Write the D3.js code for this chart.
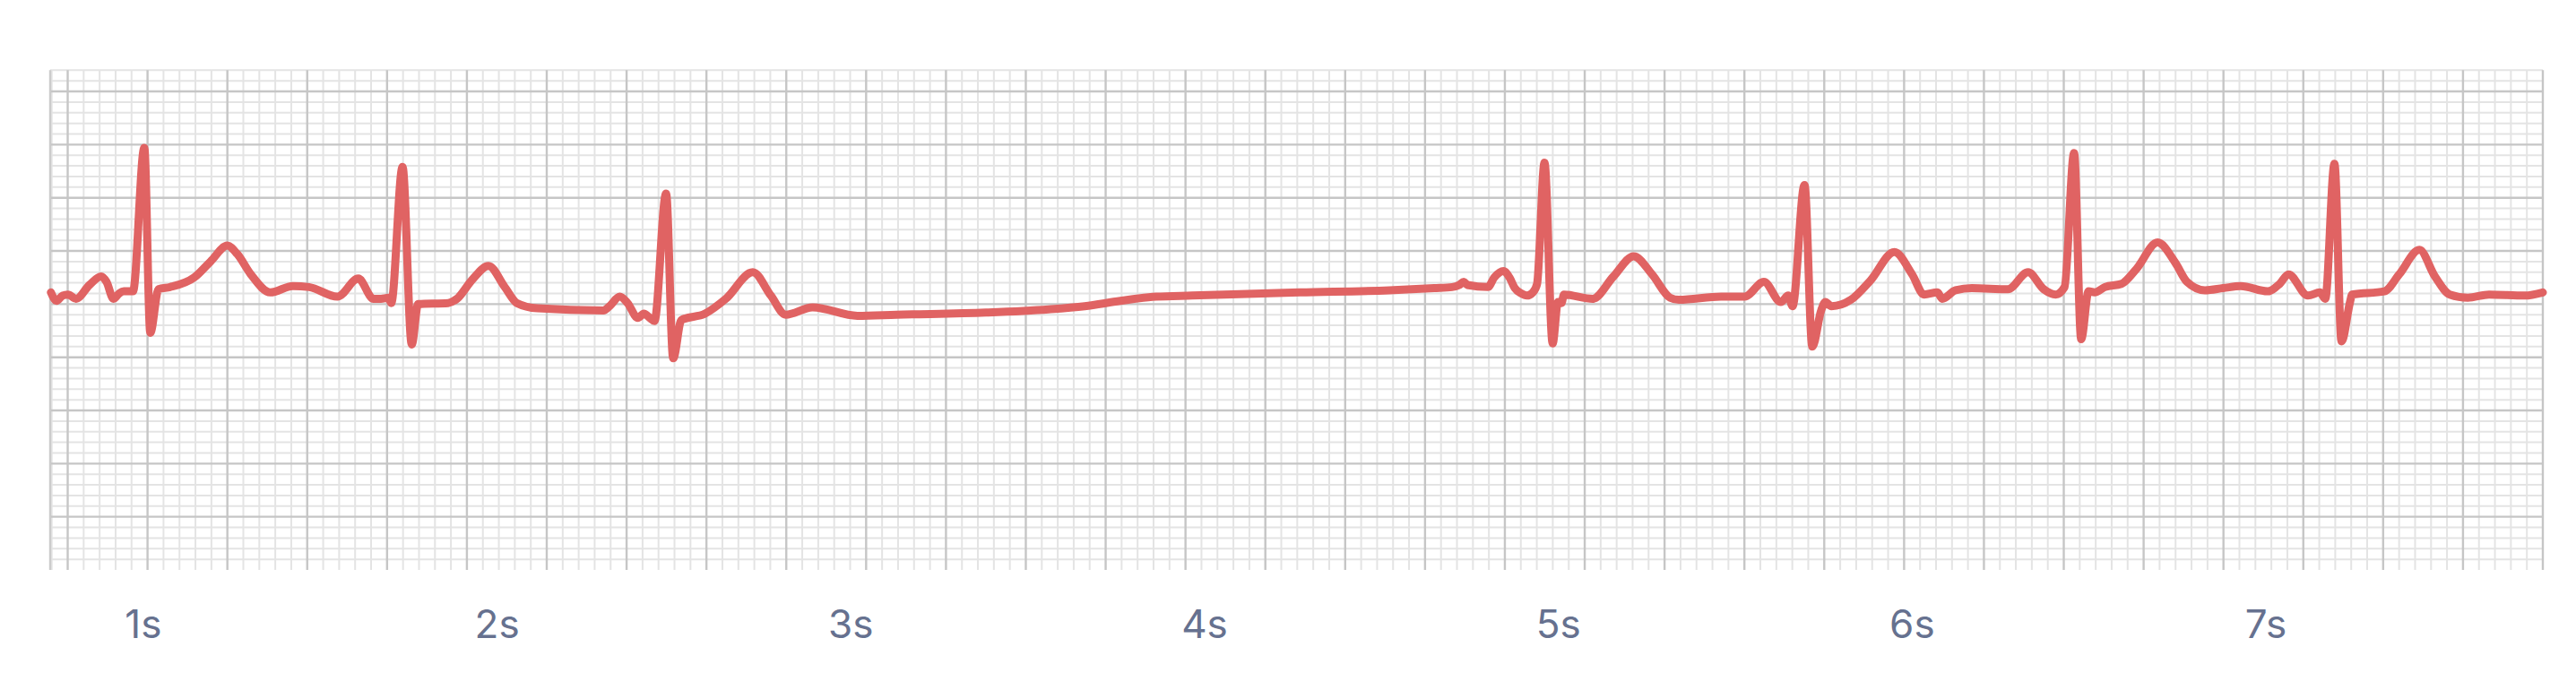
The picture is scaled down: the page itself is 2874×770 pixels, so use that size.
<!DOCTYPE html>
<html>
<head>
<meta charset="utf-8">
<script src="https://cdn.jsdelivr.net/npm/d3@7"></script>
<style>
  html, body { margin: 0; padding: 0; background: #ffffff; }
  svg { display: block; }
</style>
</head>
<body>
<svg id="chart" width="2874" height="770"></svg>
<script>
// ---- data (time in seconds, voltage in mV) ----
const times = [
  0.740, 0.756, 0.773, 0.788, 0.811, 0.849, 0.882, 0.897, 0.917, 0.933, 0.946, 0.972,
  1.004, 1.021, 1.044, 1.077, 1.145, 1.191, 1.239, 1.267, 1.305, 1.360, 1.424, 1.470,
  1.550, 1.609, 1.652, 1.673, 1.694, 1.702, 1.734, 1.760, 1.778, 1.863, 1.888, 1.931,
  1.977, 2.023, 2.057, 2.116,
  2.302, 2.319, 2.348, 2.370, 2.399, 2.416, 2.433, 2.446, 2.479, 2.499, 2.522, 2.589,
  2.648, 2.724, 2.775, 2.817, 2.893, 3.020,
  3.130, 3.383, 3.560, 3.662, 3.763, 3.864, 3.966, 4.270, 4.523, 4.650,
  4.701, 4.721, 4.734, 4.744, 4.802, 4.820, 4.846, 4.863, 4.878, 4.896, 4.912, 4.929,
  4.941, 4.962, 4.985, 5.000, 5.010, 5.017, 5.098, 5.157, 5.214, 5.266, 5.317, 5.342,
  5.461, 5.528, 5.582, 5.630, 5.651, 5.663, 5.697, 5.719, 5.744, 5.756, 5.773, 5.828,
  5.883, 5.951, 6.001, 6.035, 6.073, 6.086, 6.124, 6.170, 6.272, 6.329, 6.373, 6.407,
  6.432, 6.459, 6.479, 6.500, 6.517, 6.546, 6.593, 6.635, 6.695, 6.745, 6.778, 6.829,
  6.880, 6.930, 7.006, 7.040, 7.065, 7.120, 7.154, 7.169, 7.195, 7.215, 7.239, 7.245,
  7.336, 7.378, 7.435, 7.479, 7.521, 7.572, 7.632, 7.733, 7.784
];
const voltages = [
  0.11, 0.03, 0.08, 0.09, 0.05, 0.18, 0.26, 0.21, 0.05, 0.10, 0.12, 0.12,
  1.47, -0.27, 0.14, 0.16, 0.25, 0.40, 0.55, 0.47, 0.28, 0.11, 0.17, 0.16,
  0.07, 0.24, 0.05, 0.05, 0.06, 0.01, 1.29, -0.38, 0.00, 0.01, 0.05, 0.23,
  0.36, 0.16, 0.01, -0.04,
  -0.06, -0.02, 0.07, 0.01, -0.13, -0.09, -0.13, -0.16, 1.04, -0.51, -0.15, -0.09,
  0.05, 0.30, 0.08, -0.10, -0.03, -0.11,
  -0.10, -0.08, -0.05, -0.02, 0.03, 0.07, 0.08, 0.11, 0.13, 0.15,
  0.16, 0.18, 0.21, 0.18, 0.16, 0.25, 0.31, 0.25, 0.15, 0.10, 0.08, 0.11,
  0.19, 1.33, -0.37, 0.02, 0.01, 0.09, 0.05, 0.26, 0.45, 0.28, 0.06, 0.04,
  0.07, 0.07, 0.21, 0.02, 0.08, -0.02, 1.12, -0.40, -0.06, 0.02, -0.02, 0.04,
  0.22, 0.49, 0.28, 0.09, 0.11, 0.05, 0.13, 0.15, 0.14, 0.30, 0.14, 0.09,
  0.16, 1.42, -0.33, 0.12, 0.11, 0.16, 0.19, 0.33, 0.58, 0.39, 0.21, 0.13,
  0.15, 0.17, 0.12, 0.19, 0.28, 0.08, 0.11, 0.05, 1.32, -0.35, 0.02, 0.09,
  0.12, 0.28, 0.51, 0.26, 0.09, 0.06, 0.09, 0.08, 0.11
];
const tickValues = [1, 2, 3, 4, 5, 6, 7];
const tickLabels = ["1s", "2s", "3s", "4s", "5s", "6s", "7s"];
const timeDomain = [0.738, 7.784];
const voltDomain = [-2.5, 2.2];

// ---- layout ----
const plot = { left: 56, right: 2837, top: 78.3, bottom: 636 };
const svg = d3.select("#chart");
svg.append("rect").attr("width", 2874).attr("height", 770).attr("fill", "#ffffff");

const x = d3.scaleLinear().domain(timeDomain).range([plot.left, plot.right]);
const y = d3.scaleLinear().domain(voltDomain).range([plot.bottom, plot.top]);

// paper grid: vertical lines anchored at right edge, horizontal every 0.1 mV
const gridCells = (plot.right - plot.left) / 17.816;
const gx = d3.scaleLinear().domain([0, gridCells]).range([plot.right, plot.left]);
const vIdx = d3.range(0, Math.floor(gridCells) + 1);
const hVals = d3.range(-24, 23).map(k => k / 10);

const grid = svg.append("g");
function drawGrid(major) {
  const col = major ? "#c6c6c6" : "#e4e4e4";
  const w = major ? 2.4 : 2;
  grid.append("g").selectAll("line")
    .data(vIdx.filter(k => (k % 5 === 0) === major))
    .join("line")
    .attr("x1", k => gx(k)).attr("x2", k => gx(k))
    .attr("y1", plot.top).attr("y2", plot.bottom)
    .attr("stroke", col).attr("stroke-width", w);
  grid.append("g").selectAll("line")
    .data(hVals.filter(v => (Math.abs(Math.round(v * 10)) % 5 === 0) === major))
    .join("line")
    .attr("x1", plot.left).attr("x2", plot.right)
    .attr("y1", v => y(v)).attr("y2", v => y(v))
    .attr("stroke", col).attr("stroke-width", w);
}
drawGrid(false);
drawGrid(true);
grid.append("line")
  .attr("x1", plot.left).attr("x2", plot.left)
  .attr("y1", plot.top).attr("y2", plot.bottom)
  .attr("stroke", "#cccccc").attr("stroke-width", 2.4);

// ---- ECG trace ----
const pts = times.map((t, i) => [t, voltages[i]]);
const line = d3.line()
  .x(d => x(d[0]))
  .y(d => y(d[1]))
  .curve(d3.curveMonotoneX);
svg.append("path")
  .datum(pts)
  .attr("d", line)
  .attr("fill", "none")
  .attr("stroke", "#e06363")
  .attr("stroke-width", 9)
  .attr("stroke-linejoin", "round")
  .attr("stroke-linecap", "round");

// ---- x axis ----
const axis = d3.axisBottom(x)
  .tickValues(tickValues)
  .tickFormat((d, i) => tickLabels[i])
  .tickSize(0);
const ag = svg.append("g")
  .attr("transform", `translate(0,${plot.bottom})`)
  .call(axis);
ag.select(".domain").remove();
ag.selectAll("text")
  .attr("y", 76)
  .attr("dy", 0)
  .attr("fill", "#66718f")
  .style("font-family", "Inter, 'Open Sans', sans-serif")
  .style("font-size", "44px")
  .style("font-weight", "400");
</script>
</body>
</html>
